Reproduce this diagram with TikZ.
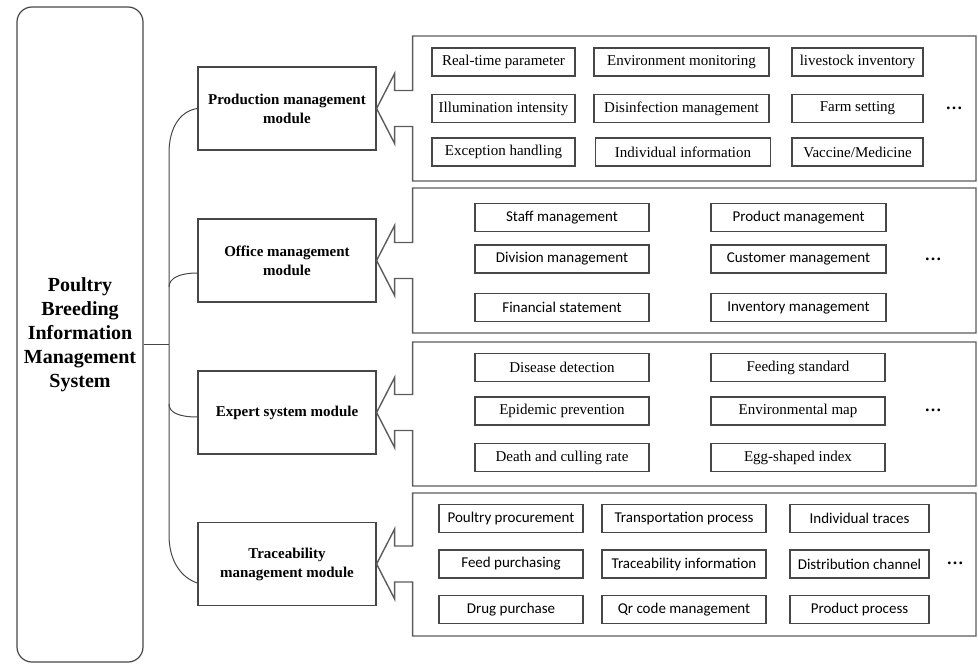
\documentclass[tikz,border=0pt]{standalone}
\usepackage{fontspec}
\setmainfont{Liberation Serif}
\newfontfamily\timesfont{Liberation Serif}
\newfontfamily\calibri{Carlito}
\usepackage{tikz}
\usetikzlibrary{positioning, calc}
\definecolor{LineGray}{HTML}{474747}
\definecolor{PanelGray}{HTML}{5C5C5C}

\begin{document}
\begin{tikzpicture}[x=1pt, y=-1pt,
            sysbox/.style={draw=LineGray, line width=1.2pt, rounded corners=15pt, minimum width=126pt, minimum height=655pt, align=center, font=\fontsize{20}{24}\selectfont\timesfont\bfseries},
            modbox/.style={draw=LineGray, line width=1.2pt, minimum width=178pt, minimum height=83pt, align=center, font=\fontsize{15}{19}\selectfont\timesfont\bfseries},
            itembox/.style={draw=LineGray, line width=1.1pt, minimum height=28pt, inner sep=2pt, font=\fontsize{15}{17}\selectfont\timesfont},
            sansitem/.style={itembox, font=\fontsize{15}{17}\selectfont\calibri},
            panel/.style={draw=PanelGray, line width=1.4pt},
            wire/.style={draw=LineGray, line width=1pt},
            more/.style={inner sep=0pt, font=\fontsize{17}{17}\selectfont\timesfont\bfseries}
        ]
            \useasboundingbox (0,0) rectangle (978,667);

            % system and modules
            \node[sysbox] at (80,334.5) (sys) {Poultry\\Breeding\\Information\\Management\\System};

            \node[modbox] at (287,108.5) (prod) {Production management\\module};
            \node[modbox] at (287,260.5) (office) {Office management\\module};
            \node[modbox] at (287,412.5) (expert) {Expert system module};
            \node[modbox] at (287,564) (trace) {Traceability\\management module};

            % brace from system to modules
            \coordinate (hub) at (169,344);
            \coordinate (trunktop) at (169,153);
            \coordinate (trunkbot) at (169,535);
            \draw[wire] (sys.east |- hub) -- (hub);
            \draw[wire] (prod.west) .. controls (180,111) and (169,128) .. (trunktop) -- (trunkbot)
                .. controls (169,562) and (182,578) .. (trace.west |- 0,583);
            \draw[wire] (169,287) .. controls (169,278) and (180,273) .. (office.west |- 0,273);
            \draw[wire] (169,404) .. controls (169,413) and (180,417) .. (expert.west |- 0,417);

            % callout panels
            \foreach \m/\t/\b in {prod/36/181, office/188/333, expert/342/486, trace/493/636}
                \draw[panel] (\m.east) -- ++(18,-35) -- ++(0,17) -- ++(18,0) |- (976,\t) -- (976,\b)
                    -| ($(\m.east)+(36,18)$) -- ++(-18,0) -- ++(0,17) -- cycle;

            % production items
            \node[itembox, minimum width=143pt] at (503.5,62) (p11) {Real-time parameter};
            \node[itembox, minimum width=175pt] at (681.5,62) (p12) {Environment monitoring};
            \node[itembox, minimum width=131pt] at (857.5,62) (p13) {livestock inventory};
            \node[itembox, minimum width=143pt] at (503.5,108.5) (p21) {Illumination intensity};
            \node[itembox, minimum width=175pt] at (681.5,108.5) (p22) {Disinfection management};
            \node[itembox, minimum width=131pt] at (857.5,108.5) (p23) {Farm setting};
            \node[itembox, minimum width=143pt] at (503.5,152) (p31) {Exception handling};
            \node[itembox, minimum width=175pt] at (683,152) (p32) {Individual information};
            \node[itembox, minimum width=131pt] at (857.5,152) (p33) {Vaccine/Medicine};
            \node[more] at (954,108.5) (pmore) {…};

            % office items
            \node[sansitem, minimum width=174pt] at (562,217.5) (o11) {Staff management};
            \node[sansitem, minimum width=175pt] at (798.5,217.5) (o12) {Product management};
            \node[sansitem, minimum width=174pt] at (562,259) (o21) {Division management};
            \node[sansitem, minimum width=175pt] at (798.5,259) (o22) {Customer management};
            \node[sansitem, minimum width=174pt] at (562,307.5) (o31) {Financial statement};
            \node[sansitem, minimum width=175pt] at (798.5,307.5) (o32) {Inventory management};
            \node[more] at (933,259) (omore) {…};

            % expert items
            \node[itembox, minimum width=174pt] at (562,367.5) (e11) {Disease detection};
            \node[itembox, minimum width=174pt] at (798,367.5) (e12) {Feeding standard};
            \node[itembox, minimum width=174pt] at (562,411) (e21) {Epidemic prevention};
            \node[itembox, minimum width=174pt] at (798,411) (e22) {Environmental map};
            \node[itembox, minimum width=174pt] at (562,457.5) (e31) {Death and culling rate};
            \node[itembox, minimum width=174pt] at (798,457.5) (e32) {Egg-shaped index};
            \node[more] at (933,410.5) (emore) {…};

            % traceability items
            \node[sansitem, minimum width=144pt] at (511,518.5) (t11) {Poultry procurement};
            \node[sansitem, minimum width=164pt] at (684,518.5) (t12) {Transportation process};
            \node[sansitem, minimum width=139pt] at (859.5,518.5) (t13) {Individual traces};
            \node[sansitem, minimum width=144pt] at (511,564) (t21) {Feed purchasing};
            \node[sansitem, minimum width=164pt] at (684,564) (t22) {Traceability information};
            \node[sansitem, minimum width=139pt] at (859.5,564) (t23) {Distribution channel};
            \node[sansitem, minimum width=144pt] at (511,609.5) (t31) {Drug purchase};
            \node[sansitem, minimum width=164pt] at (684,609.5) (t32) {Qr code management};
            \node[sansitem, minimum width=139pt] at (859.5,609.5) (t33) {Product process};
            \node[more] at (955,563.5) (tmore) {…};

        \end{tikzpicture}
\end{document}
